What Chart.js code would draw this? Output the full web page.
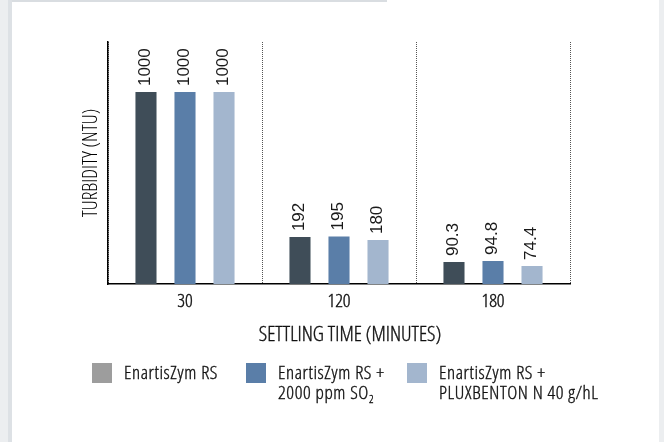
<!DOCTYPE html>
<html>
<head>
<meta charset="utf-8">
<script src="https://cdn.jsdelivr.net/npm/chart.js@4.4.1/dist/chart.umd.min.js"></script>
<style>
  html, body { margin:0; padding:0; }
  body { width:664px; height:442px; background:#eceef0; position:relative; overflow:hidden; }
  #edge { position:absolute; left:8px; top:0; width:4px; height:442px; background:#dde1e5; }
  #panel { position:absolute; left:12px; top:0; width:647px; height:442px; background:#ffffff; }
  #topbar { position:absolute; left:12px; top:0; width:375px; height:2px; background:#d9dde1; }
  #chart { position:absolute; left:0; top:0; }
  .cond { font-family:'Open Sans', 'Liberation Sans Narrow', sans-serif; font-stretch:75%; font-weight:300;
          color:#111; -webkit-text-stroke:0.35px #111; }
  #xtitle { position:absolute; left:250px; width:200px; top:321px; text-align:center; font-size:21px; line-height:25px; white-space:nowrap; }
  #legend { position:absolute; left:0; top:0; width:664px; height:442px; pointer-events:none; font-size:19px; letter-spacing:0.6px; }
  .item { position:absolute; top:363px; display:flex; align-items:flex-start; }
  .sw { width:20px; height:20px; margin-right:12px; flex:none; }
  .txt { line-height:20px; margin-top:-1px; white-space:nowrap; }
  sub { font-size:11px; vertical-align:-4px; line-height:0; }
</style>
</head>
<body>
<div id="edge"></div>
<div id="panel"></div>
<div id="topbar"></div>
<canvas id="chart" width="664" height="442"></canvas>
<div id="xtitle" class="cond"></div>
<div id="legend" class="cond"></div>
<script>
// ---- data ----
const categories = ['30', '120', '180'];
const seriesNames = ['EnartisZym RS', 'EnartisZym RS + 2000 ppm SO₂', 'EnartisZym RS + PLUXBENTON N 40 g/hL'];
const legendLines = [['EnartisZym RS'], ['EnartisZym RS +', '2000 ppm SO<sub>2</sub>'], ['EnartisZym RS +', 'PLUXBENTON N 40 g/hL']];
const rsValues = [1000, 192, 90.3];
const so2Values = [1000, 195, 94.8];
const pluxValues = [1000, 180, 74.4];
const barColors = ['#3f4d58', '#5a7ea8', '#a3b6ce'];
const legendColors = ['#9d9d9d', '#5a7ea8', '#a3b6ce'];
const xTitle = 'SETTLING TIME (MINUTES)';
const yTitle = 'TURBIDITY (NTU)';

// ---- broken (two-segment) linear scale: low values get more room ----
class BreakScale extends Chart.LinearScale {
  _frac(v) {
    const B = this.options.breakValue, s = this.options.lowerShare;
    const min = this.min, max = this.max;
    if (v <= B) return s * (v - min) / (B - min);
    return s + (1 - s) * (v - B) / (max - B);
  }
  getPixelForValue(value) {
    return this.getPixelForDecimal(this._frac(value));
  }
  getValueForPixel(pixel) {
    const d = this.getDecimalForPixel(pixel);
    const B = this.options.breakValue, s = this.options.lowerShare;
    if (d <= s) return this.min + d / s * (B - this.min);
    return B + (d - s) / (1 - s) * (this.max - B);
  }
}
BreakScale.id = 'breakLinear';
BreakScale.defaults = Chart.LinearScale.defaults;
Chart.register(BreakScale);

const labelPlugin = {
  id: 'barValues',
  afterDatasetsDraw(chart) {
    const ctx = chart.ctx;
    ctx.save();
    ctx.fillStyle = '#1a1a1a';
    ctx.font = "17px 'Liberation Sans Narrow', 'Arial Narrow', sans-serif";
    ctx.textAlign = 'left';
    ctx.textBaseline = 'middle';
    chart.data.datasets.forEach((ds, i) => {
      const meta = chart.getDatasetMeta(i);
      meta.data.forEach((bar, j) => {
        ctx.save();
        ctx.translate(bar.x - 1, bar.y - 6);
        ctx.rotate(-Math.PI / 2);
        ctx.fillText(String(ds.data[j]), 0, 0);
        ctx.restore();
      });
    });
    ctx.restore();
  }
};

const fontFam = "'Open Sans', 'Liberation Sans Narrow', sans-serif";

const chart = new Chart(document.getElementById('chart'), {
  type: 'bar',
  data: {
    labels: categories,
    datasets: [
      { label: seriesNames[0], data: rsValues, backgroundColor: barColors[0] },
      { label: seriesNames[1], data: so2Values, backgroundColor: barColors[1] },
      { label: seriesNames[2], data: pluxValues, backgroundColor: barColors[2] }
    ]
  },
  options: {
    responsive: false,
    animation: false,
    devicePixelRatio: 1,
    categoryPercentage: 0.76,
    barPercentage: 0.54,
    layout: { padding: { left: 79, right: 94, top: 42, bottom: 123 } },
    plugins: { legend: { display: false }, tooltip: { enabled: false } },
    scales: {
      x: {
        grid: { display: true, offset: true, drawTicks: false, color: '#555', lineWidth: 1 },
        border: { display: true, color: '#000', width: 1.5, dash: [1, 1] },
        ticks: { color: '#111', padding: 6, textStrokeColor: '#111', textStrokeWidth: 0.4,
                 font: { family: fontFam, size: 19, weight: '300 condensed' } },
        title: { display: false }
      },
      y: {
        type: 'breakLinear',
        min: 0, max: 1280,
        breakValue: 200, lowerShare: 0.2025,
        grid: { display: false, drawTicks: false },
        border: { display: true, color: '#000', width: 1.5 },
        ticks: { display: false },
        title: { display: true, text: yTitle, color: '#000', padding: { top: 0, bottom: 5 },
                 font: { family: fontFam, size: 20, weight: '300 condensed' } }
      }
    }
  },
  plugins: [labelPlugin]
});

// ---- HTML x-axis title and legend ----
document.getElementById('xtitle').textContent = xTitle;
const legendX = [92, 246, 407];
const leg = document.getElementById('legend');
legendLines.forEach((lines, i) => {
  const d = document.createElement('div');
  d.className = 'item';
  d.style.left = legendX[i] + 'px';
  d.innerHTML = '<div class="sw" style="background:' + legendColors[i] + '"></div><div class="txt">' + lines.join('<br>') + '</div>';
  leg.appendChild(d);
});
</script>
</body>
</html>
